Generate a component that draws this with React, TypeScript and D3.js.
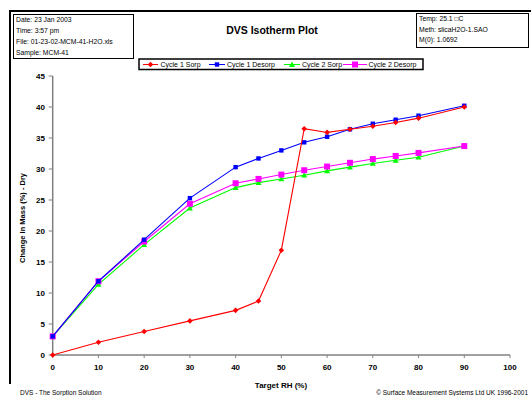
import { useEffect, useRef } from 'react';
import * as d3 from 'd3';

const rhSteps = [0, 10, 20, 30, 40, 45, 50, 55, 60, 65, 70, 75, 80, 90];
const cycle1Sorp = [0, 2.05, 3.8, 5.5, 7.2, 8.7, 16.9, 36.5, 35.9, 36.4, 36.9, 37.5, 38.2, 40.0];
const cycle1Desorp = [3.0, 11.9, 18.6, 25.3, 30.3, 31.7, 33.0, 34.3, 35.2, 36.4, 37.3, 37.95, 38.6, 40.2];
const cycle2Sorp = [3.0, 11.4, 17.8, 23.7, 27.0, 27.8, 28.4, 29.0, 29.7, 30.3, 30.9, 31.4, 31.9, 33.7];
const cycle2Desorp = [3.0, 11.9, 18.3, 24.4, 27.7, 28.4, 29.1, 29.8, 30.4, 31.0, 31.6, 32.1, 32.6, 33.7];

const xTicks = [0, 10, 20, 30, 40, 50, 60, 70, 80, 90, 100];
const yTicks = [0, 5, 10, 15, 20, 25, 30, 35, 40, 45];

const headerLeft = ['Date:  23 Jan 2003', 'Time:  3:57 pm', 'File:  01-23-02-MCM-41-H2O.xls', 'Sample:  MCM-41'];
const headerRight = ['Temp:  25.1 \u25a1C', 'Meth:  slicaH2O-1.SAO', 'M(0):  1.0692'];

type Marker = 'diamond' | 'square' | 'triangle' | 'bigsquare';
const seriesList: { name: string; color: string; marker: Marker; values: number[] }[] = [
  { name: 'Cycle 1 Sorp', color: '#ff0000', marker: 'diamond', values: cycle1Sorp },
  { name: 'Cycle 1 Desorp', color: '#0000ff', marker: 'square', values: cycle1Desorp },
  { name: 'Cycle 2 Sorp', color: '#00ff00', marker: 'triangle', values: cycle2Sorp },
  { name: 'Cycle 2 Desorp', color: '#ff00ff', marker: 'bigsquare', values: cycle2Desorp },
];

const W = 531;
const H = 396;
const font = 'Arial, "Liberation Sans", sans-serif';

function drawMarker(g: d3.Selection<SVGGElement, unknown, null, undefined>, kind: Marker, x: number, y: number, color: string) {
  if (kind === 'diamond') {
    g.append('path')
      .attr('d', `M${x},${y - 2.8}L${x + 2.8},${y}L${x},${y + 2.8}L${x - 2.8},${y}Z`)
      .attr('fill', color);
  } else if (kind === 'square') {
    g.append('rect').attr('x', x - 2.2).attr('y', y - 2.2).attr('width', 4.4).attr('height', 4.4).attr('fill', color);
  } else if (kind === 'triangle') {
    g.append('path')
      .attr('d', `M${x},${y - 3}L${x + 3},${y + 2.4}L${x - 3},${y + 2.4}Z`)
      .attr('fill', color);
  } else {
    g.append('rect').attr('x', x - 3).attr('y', y - 3).attr('width', 6).attr('height', 6).attr('fill', color);
  }
}

export default function App() {
  const svgRef = useRef<SVGSVGElement>(null);

  useEffect(() => {
    if (!svgRef.current) return;
    const svg = d3.select(svgRef.current);
    svg.selectAll('*').remove();

    const xScale = d3.scaleLinear().domain([0, 100]).range([52.7, 510]);
    const yScale = d3.scaleLinear().domain([0, 45]).range([355, 76]);

    svg.append('rect').attr('width', W).attr('height', H).attr('fill', '#ffffff');

    // outer frame lines
    svg.append('line').attr('x1', 10).attr('x2', W).attr('y1', 11).attr('y2', 11)
      .attr('stroke', '#000').attr('stroke-width', 2);
    svg.append('line').attr('x1', 10).attr('x2', 10).attr('y1', 10).attr('y2', 384)
      .attr('stroke', '#000').attr('stroke-width', 2);

    // header boxes
    svg.append('rect').attr('x', 13.5).attr('y', 14.5).attr('width', 120).attr('height', 44)
      .attr('fill', '#fff').attr('stroke', '#000').attr('stroke-width', 1);
    headerLeft.forEach((t, i) => {
      svg.append('text').attr('x', 16).attr('y', 22 + i * 11)
        .attr('font-family', font).attr('font-size', '6.8px').attr('fill', '#000').text(t);
    });
    svg.append('rect').attr('x', 416.5).attr('y', 13.5).attr('width', 112).attr('height', 34)
      .attr('fill', '#fff').attr('stroke', '#000').attr('stroke-width', 1);
    headerRight.forEach((t, i) => {
      svg.append('text').attr('x', 419).attr('y', 21 + i * 10.5)
        .attr('font-family', font).attr('font-size', '6.8px').attr('fill', '#000').text(t);
    });

    svg.append('text').attr('x', 272).attr('y', 34).attr('text-anchor', 'middle')
      .attr('font-family', font).attr('font-size', '10.5px').attr('font-weight', 'bold')
      .attr('fill', '#000').text('DVS Isotherm Plot');

    // legend
    svg.append('rect').attr('x', 139).attr('y', 59).attr('width', 284).attr('height', 10.5)
      .attr('fill', '#fff').attr('stroke', '#000').attr('stroke-width', 1.5);
    const legendX = [[143, 158, 160.5], [209, 225, 227], [284, 300, 302], [343, 367, 368.5]];
    seriesList.forEach((s, i) => {
      const [x1, x2, tx] = legendX[i];
      const lg = svg.append('g');
      lg.append('line').attr('x1', x1).attr('x2', x2).attr('y1', 64.5).attr('y2', 64.5)
        .attr('stroke', s.color).attr('stroke-width', 1);
      drawMarker(lg, s.marker, (x1 + x2) / 2, 64.5, s.color);
      lg.append('text').attr('x', tx).attr('y', 67.3)
        .attr('font-family', font).attr('font-size', '7px').attr('fill', '#000').text(s.name);
    });

    // axes
    const axisColor = '#808080';
    const ax = svg.append('g');
    ax.append('line').attr('x1', xScale(0)).attr('x2', xScale(100)).attr('y1', yScale(0)).attr('y2', yScale(0))
      .attr('stroke', axisColor).attr('stroke-width', 1.5);
    ax.append('line').attr('x1', xScale(0)).attr('x2', xScale(0)).attr('y1', yScale(0)).attr('y2', yScale(45))
      .attr('stroke', axisColor).attr('stroke-width', 1.5);
    xTicks.forEach(t => {
      ax.append('line').attr('x1', xScale(t)).attr('x2', xScale(t)).attr('y1', yScale(0)).attr('y2', yScale(0) + 3)
        .attr('stroke', axisColor).attr('stroke-width', 1);
      ax.append('text').attr('x', xScale(t)).attr('y', 370).attr('text-anchor', 'middle')
        .attr('font-family', font).attr('font-size', '8px').attr('font-weight', 'bold')
        .attr('fill', '#000').text(t);
    });
    yTicks.forEach(t => {
      ax.append('line').attr('x1', xScale(0) - 4).attr('x2', xScale(0)).attr('y1', yScale(t)).attr('y2', yScale(t))
        .attr('stroke', axisColor).attr('stroke-width', 1);
      ax.append('text').attr('x', 45).attr('y', yScale(t) + 3).attr('text-anchor', 'end')
        .attr('font-family', font).attr('font-size', '8px').attr('font-weight', 'bold')
        .attr('fill', '#000').text(t);
    });

    svg.append('text').attr('x', 281).attr('y', 388).attr('text-anchor', 'middle')
      .attr('font-family', font).attr('font-size', '8px').attr('font-weight', 'bold')
      .attr('fill', '#000').text('Target RH (%)');
    svg.append('text').attr('transform', 'translate(25,218) rotate(-90)').attr('text-anchor', 'middle')
      .attr('font-family', font).attr('font-size', '7.5px').attr('font-weight', 'bold')
      .attr('fill', '#000').text('Change In Mass (%) - Dry');

    // series
    const line = d3.line<number>()
      .x((_d, i) => xScale(rhSteps[i]))
      .y(d => yScale(d));
    const order = [2, 3, 1, 0];
    order.forEach(idx => {
      const s = seriesList[idx];
      const g = svg.append('g');
      g.append('path').datum(s.values).attr('d', line)
        .attr('fill', 'none').attr('stroke', s.color).attr('stroke-width', 1.1);
      s.values.forEach((v, i) => drawMarker(g, s.marker, xScale(rhSteps[i]), yScale(v), s.color));
    });

    // footer
    svg.append('text').attr('x', 20).attr('y', 395)
      .attr('font-family', font).attr('font-size', '6.5px').attr('fill', '#000')
      .text('DVS - The Sorption Solution');
    svg.append('text').attr('x', 528).attr('y', 395).attr('text-anchor', 'end')
      .attr('font-family', font).attr('font-size', '6.5px').attr('fill', '#000')
      .text('\u00a9 Surface Measurement Systems Ltd UK 1996-2001');
  }, []);

  return <svg ref={svgRef} width={W} height={H} style={{ position: 'absolute', left: 0, top: 0 }} />;
}
